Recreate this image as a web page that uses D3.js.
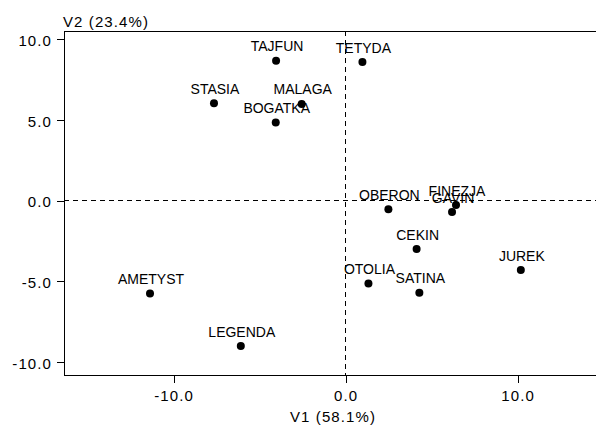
<!DOCTYPE html>
<html>
<head>
<meta charset="utf-8">
<script src="https://cdn.jsdelivr.net/npm/d3@7"></script>
<style>
  body { margin: 0; background: #fff; }
  text { font-family: "Liberation Sans", Arial, sans-serif; fill: #000; }
</style>
</head>
<body>
<div id="chart"></div>
<script>
// data (V1 = x, V2 = y)
const names = ["TAJFUN", "TETYDA", "STASIA", "MALAGA", "BOGATKA", "OBERON", "FINEZJA",
               "GAVIN", "CEKIN", "JUREK", "OTOLIA", "SATINA", "AMETYST", "LEGENDA"];
const v1 = [-4.04, 0.98, -7.65, -2.55, -4.06, 2.49, 6.42, 6.19, 4.13, 10.19, 1.33, 4.29, -11.37, -6.09];
const v2 = [8.66, 8.58, 6.02, 5.98, 4.84, -0.53, -0.28, -0.71, -3.0, -4.30, -5.13, -5.71, -5.75, -9.01];
const xTicks = [-10, 0, 10];
const yTicks = [-10, -5, 0, 5, 10];
const xTitle = "V1 (58.1%)";
const yTitle = "V2 (23.4%)";

const W = 596, H = 430;
const margin = {top: 31, right: 0, bottom: 55, left: 64};

const data = names.map((n, i) => ({name: n, x: v1[i], y: v2[i]}));

const svg = d3.select("#chart").append("svg")
    .attr("width", W)
    .attr("height", H);

const x = d3.scaleLinear()
    .domain([-16.37, 14.56])
    .range([margin.left, W - margin.right]);
const y = d3.scaleLinear()
    .domain([-10.8, 10.5])
    .range([H - margin.bottom, margin.top]);

const fmt = d => d.toFixed(1);

// left axis
const gy = svg.append("g")
    .attr("transform", `translate(${margin.left},0)`)
    .call(d3.axisLeft(y).tickValues(yTicks).tickFormat(fmt).tickSize(7).tickSizeOuter(0).tickPadding(5));
gy.selectAll("text")
    .style("font-size", "15px")
    .style("letter-spacing", "1.1px")
    .attr("dy", "0.42em");

// bottom axis
const gx = svg.append("g")
    .attr("transform", `translate(0,${H - margin.bottom})`)
    .call(d3.axisBottom(x).tickValues(xTicks).tickFormat(fmt).tickSize(8).tickSizeOuter(0).tickPadding(7));
gx.selectAll("text")
    .style("font-size", "15px")
    .style("letter-spacing", "1.1px");

svg.selectAll(".domain, .tick line")
    .attr("stroke", "#000")
    .attr("shape-rendering", "crispEdges");
svg.selectAll(".tick text").attr("fill", "#000").attr("font-family", null);

// top frame line
svg.append("line")
    .attr("x1", margin.left).attr("x2", W)
    .attr("y1", margin.top).attr("y2", margin.top)
    .attr("stroke", "#000")
    .attr("shape-rendering", "crispEdges");

// dashed zero lines
svg.append("line")
    .attr("x1", x(0)).attr("x2", x(0))
    .attr("y1", margin.top).attr("y2", H - margin.bottom)
    .attr("stroke", "#000")
    .attr("stroke-dasharray", "5,4")
    .attr("shape-rendering", "crispEdges");
svg.append("line")
    .attr("x1", margin.left).attr("x2", W)
    .attr("y1", y(0)).attr("y2", y(0))
    .attr("stroke", "#000")
    .attr("stroke-dasharray", "5,4")
    .attr("shape-rendering", "crispEdges");

// axis titles
svg.append("text")
    .attr("x", margin.left - 1)
    .attr("y", 27)
    .style("font-size", "15px")
    .style("letter-spacing", "1.1px")
    .text(yTitle);
svg.append("text")
    .attr("x", 333)
    .attr("y", 422)
    .attr("text-anchor", "middle")
    .style("font-size", "15px")
    .style("letter-spacing", "1.1px")
    .text(xTitle);

// points
svg.selectAll("circle")
    .data(data)
    .enter().append("circle")
    .attr("cx", d => x(d.x))
    .attr("cy", d => y(d.y))
    .attr("r", 4)
    .attr("fill", "#000");

// labels
svg.selectAll(".lbl")
    .data(data)
    .enter().append("text")
    .attr("class", "lbl")
    .attr("x", d => x(d.x) + 1)
    .attr("y", d => y(d.y) - 9.5)
    .attr("text-anchor", "middle")
    .style("font-size", "14px")
    .text(d => d.name);
</script>
</body>
</html>
